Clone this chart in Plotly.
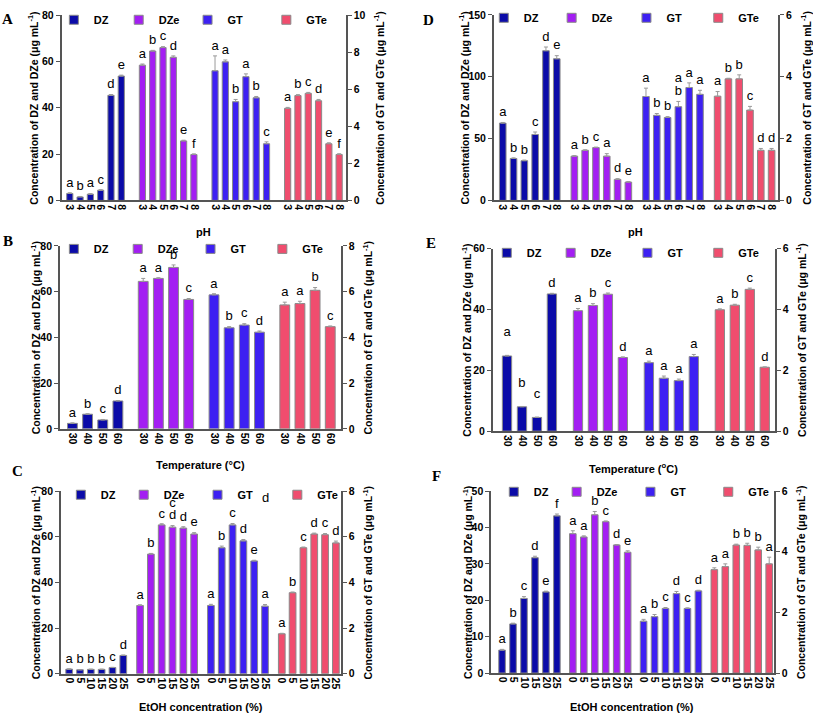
import plotly.graph_objects as go

W, H = 813, 722
SERIES = ["DZ", "DZe", "GT", "GTe"]
COLORS = {"DZ": "#0b0ba8", "DZe": "#a31ef2", "GT": "#3d20f2", "GTe": "#f04d6e"}

# ---------------- Panel A: pH (first species) ----------------
A_cats = ["3", "4", "5", "6", "7", "8"]
A_DZ = [3.0, 1.5, 2.7, 4.4, 45.4, 53.7]
A_DZ_err = [0.3, 0.2, 0.2, 0.2, 0.3, 0.4]
A_DZ_let = ["a", "b", "a", "c", "d", "e"]
A_DZe = [58.4, 64.5, 66.0, 61.8, 25.7, 19.8]
A_DZe_err = [0.5, 0.3, 0.4, 0.6, 0.3, 0.3]
A_DZe_let = ["a", "b", "c", "d", "e", "f"]
A_GT = [7.0, 7.48, 5.33, 6.68, 5.54, 3.06]
A_GT_err = [0.8, 0.1, 0.12, 0.15, 0.07, 0.1]
A_GT_let = ["a", "a", "b", "a", "b", "c"]
A_GTe = [4.97, 5.66, 5.78, 5.38, 3.06, 2.48]
A_GTe_err = [0.05, 0.05, 0.05, 0.07, 0.05, 0.04]
A_GTe_let = ["a", "b", "c", "d", "e", "f"]

# ---------------- Panel B: temperature ----------------
B_cats = ["30", "40", "50", "60"]
B_DZ = [2.4, 6.4, 3.9, 12.2]
B_DZ_err = [0.2, 0.2, 0.2, 0.2]
B_DZ_let = ["a", "b", "c", "d"]
B_DZe = [64.5, 65.8, 70.6, 56.6]
B_DZe_err = [1.3, 0.3, 1.1, 0.4]
B_DZe_let = ["a", "a", "b", "c"]
B_GT = [5.86, 4.42, 4.54, 4.23]
B_GT_err = [0.05, 0.05, 0.06, 0.05]
B_GT_let = ["a", "b", "c", "d"]
B_GTe = [5.42, 5.48, 6.06, 4.47]
B_GTe_err = [0.12, 0.1, 0.12, 0.03]
B_GTe_let = ["a", "a", "b", "c"]

# ---------------- Panel C: EtOH ----------------
C_cats = ["0", "5", "10", "15", "20", "25"]
C_DZ = [2.0, 1.7, 1.9, 1.9, 2.7, 8.0]
C_DZ_err = [0.1, 0.1, 0.1, 0.1, 0.1, 0.2]
C_DZ_let = ["a", "b", "b", "b", "c", "d"]
C_DZe = [29.9, 52.4, 65.2, 64.2, 63.8, 61.2]
C_DZe_err = [0.3, 0.3, 0.5, 0.7, 0.6, 0.6]
C_DZe_let = ["a", "b", "c", "c<br>d", "d", "e"]
C_GT = [2.99, 5.52, 6.52, 5.82, 4.94, 2.96]
C_GT_err = [0.05, 0.07, 0.06, 0.06, 0.03, 0.07]
C_GT_let = ["a", "b", "c", "d", "e", "a"]
C_GTe = [1.75, 3.55, 5.52, 6.12, 6.09, 5.73]
C_GTe_err = [0.02, 0.03, 0.03, 0.04, 0.05, 0.08]
C_GTe_let = ["a", "b", "c", "d", "c", "d"]

# ---------------- Panel D: pH (second species) ----------------
D_cats = ["3", "4", "5", "6", "7", "8"]
D_DZ = [62.5, 33.9, 32.1, 53.3, 121.0, 114.5]
D_DZ_err = [0.5, 0.5, 0.5, 2.0, 3.0, 2.5]
D_DZ_let = ["a", "b", "b", "c", "d", "e"]
D_DZe = [35.8, 40.5, 42.7, 35.8, 17.0, 14.8]
D_DZe_err = [0.4, 0.4, 0.4, 2.0, 0.6, 0.5]
D_DZe_let = ["a", "b", "c", "a", "d", "e"]
D_GT = [3.36, 2.75, 2.68, 3.03, 3.65, 3.43]
D_GT_err = [0.27, 0.06, 0.03, 0.17, 0.15, 0.13]
D_GT_let = ["a", "b", "b", "a<br>b", "a", "a"]
D_GTe = [3.37, 3.93, 3.93, 2.92, 1.62, 1.62]
D_GTe_err = [0.15, 0.02, 0.13, 0.12, 0.06, 0.06]
D_GTe_let = ["a", "b", "b", "c", "d", "d"]

# ---------------- Panel E: temperature ----------------
E_cats = ["30", "40", "50", "60"]
E_DZ = [24.7, 8.0, 4.5, 45.1]
E_DZ_err = [0.2, 0.1, 0.1, 0.2]
E_DZ_let = ["a<br>", "b<br>", "c<br>", "d"]   # first three float higher in the original
E_DZe = [39.6, 41.3, 45.0, 24.2]
E_DZe_err = [0.7, 0.6, 0.4, 0.2]
E_DZe_let = ["a", "b", "c", "d"]
E_GT = [2.25, 1.74, 1.66, 2.45]
E_GT_err = [0.05, 0.07, 0.05, 0.07]
E_GT_let = ["a", "a", "a", "a"]
E_GTe = [3.99, 4.14, 4.66, 2.10]
E_GTe_err = [0.03, 0.03, 0.04, 0.01]
E_GTe_let = ["a", "b", "c", "d"]

# ---------------- Panel F: EtOH ----------------
F_cats = ["0", "5", "10", "15", "20", "25"]
F_DZ = [6.3, 13.5, 20.5, 31.7, 22.3, 43.2]
F_DZ_err = [0.2, 0.2, 0.5, 0.4, 0.2, 0.5]
F_DZ_let = ["a", "b", "c", "d", "e", "f"]
F_DZe = [38.3, 37.4, 43.5, 41.6, 35.2, 33.2]
F_DZe_err = [0.8, 0.3, 0.9, 0.2, 0.1, 0.4]
F_DZe_let = ["a", "a", "b", "c", "d", "e"]
F_GT = [1.71, 1.86, 2.13, 2.62, 2.13, 2.71]
F_GT_err = [0.06, 0.07, 0.03, 0.07, 0.02, 0.02]
F_GT_let = ["a", "b", "c", "d", "c", "d"]
F_GTe = [3.41, 3.51, 4.22, 4.21, 4.06, 3.60]
F_GTe_err = [0.06, 0.09, 0.03, 0.07, 0.09, 0.22]
F_GTe_let = ["a", "a", "b", "b", "b", "a"]

LEFT_TITLE = "Concentration of DZ and DZe (μg mL<sup>-1</sup>)"
RIGHT_TITLE = "Concentration of GT and GTe (μg mL<sup>-1</sup>)"

g = globals()
panels = [
    dict(key="A", xt="pH", lmax=80, ldt=20, rmax=10, rdt=2,
         px=(61.7, 346.7), py=(9.3, 197.7), stride=7.05, padl=0.8, padr=0.65, bw=0.6,
         leg=[74, 139, 208, 287], legy=14, lab=(8, 13), xty=230, ltx=33, rtx=380),
    dict(key="B", xt="Temperature (°C)", lmax=80, ldt=20, rmax=8, rdt=2,
         px=(60, 341.7), py=(244, 430), stride=4.67, padl=0.83, padr=0.7, bw=0.65,
         leg=[74, 138, 211, 283], legy=247, lab=(8, 239), xty=467, ltx=35, rtx=368),
    dict(key="C", xt="EtOH concentration (%)", lmax=80, ldt=20, rmax=8, rdt=2,
         px=(61, 341.7), py=(493.3, 679), stride=6.55, padl=0.77, padr=0.46, bw=0.62,
         leg=[81, 144, 218, 298], legy=497, lab=(18, 473), xty=713, ltx=35, rtx=368),
    dict(key="D", xt="pH", lmax=150, ldt=50, rmax=6, rdt=2,
         px=(495, 780), py=(9, 197.7), stride=6.63, padl=0.83, padr=0.6, bw=0.61,
         leg=[505, 573, 648, 720], legy=12, lab=(430, 14), xty=230, ltx=465, rtx=808),
    dict(key="E", xt="Temperature (<sup>o</sup>C)", lmax=60, ldt=20, rmax=6, rdt=2,
         px=(494, 776.7), py=(246.7, 432.3), stride=4.74, padl=0.95, padr=0.67, bw=0.62,
         leg=[508, 572, 649, 720], legy=251, lab=(432, 241), xty=470, ltx=468, rtx=803),
    dict(key="F", xt="EtOH concentration (%)", lmax=50, ldt=10, rmax=6, rdt=2,
         px=(492.3, 775.7), py=(493.3, 678.3), stride=6.45, padl=1.0, padr=0.42, bw=0.6,
         leg=[515, 578, 652, 730], legy=494, lab=(438, 478), xty=713, ltx=468, rtx=802),
]

FONT = "Liberation Sans, Arial, sans-serif"
AXC = "#555555"
LABEL_PAD_PX = 3      # gap between error-bar top and letter
LINE_PX = 13          # spacing of stacked letters
fig = go.Figure()
annotations = []
layout = dict(width=W, height=H, margin=dict(l=0, r=0, t=0, b=0),
              paper_bgcolor="white", plot_bgcolor="white", barmode="overlay",
              showlegend=True)

legend_counter = 0
for k, p in enumerate(panels):
    key = p["key"]
    cats = g[f"{key}_cats"]
    n = len(cats)
    xname = "x" if k == 0 else f"x{k+1}"
    yl = f"y{2*k+1}" if k > 0 else "y"
    yr = f"y{2*k+2}"
    xdom = [p["px"][0] / W, p["px"][1] / W]
    ydom = [1 - p["py"][1] / H, 1 - p["py"][0] / H]
    hpx = p["py"][1] - p["py"][0]

    tickvals, ticktext = [], []
    for gi, s in enumerate(SERIES):
        xs = [gi * p["stride"] + i for i in range(n)]
        tickvals += xs
        ticktext += cats
        vals = g[f"{key}_{s}"]
        errs = g[f"{key}_{s}_err"]
        lets = g[f"{key}_{s}_let"]
        left = s in ("DZ", "DZe")
        yax = yl if left else yr
        rng = p["lmax"] if left else p["rmax"]
        upx = rng / hpx  # axis units per pixel
        fig.add_trace(go.Bar(
            x=xs, y=vals, width=p["bw"], xaxis=xname, yaxis=yax,
            marker=dict(color=COLORS[s], line=dict(color="#8a8a8a", width=1)),
            error_y=dict(type="data", array=errs, arrayminus=[0] * n, symmetric=False,
                         color="#9a9a9a", thickness=1, width=2),
            showlegend=False, name=s, hoverinfo="skip"))
        # letters; stacked letters split into lines (bottom line nearest the bar)
        lx, ly, lt = [], [], []
        for xi, v, e, t in zip(xs, vals, errs, lets):
            lines = t.split("<br>")
            for j, ln in enumerate(reversed(lines)):
                if ln.strip() == "":
                    continue
                lx.append(xi)
                ly.append(v + e + (LABEL_PAD_PX + j * LINE_PX) * upx)
                lt.append(ln)
        fig.add_trace(go.Scatter(
            x=lx, y=ly, mode="text", text=lt,
            textposition="top center", xaxis=xname, yaxis=yax,
            textfont=dict(family=FONT, size=13, color="black"),
            cliponaxis=False, showlegend=False, hoverinfo="skip"))
        # legend entry
        legend_counter += 1
        lname = "legend" if legend_counter == 1 else f"legend{legend_counter}"
        fig.add_trace(go.Scatter(
            x=[None], y=[None], mode="markers", name=s, xaxis=xname, yaxis=yax,
            marker=dict(symbol="square", size=9, color=COLORS[s],
                        line=dict(color="#8a8a8a", width=1)),
            legend=lname, showlegend=True))
        layout[lname] = dict(x=(p["leg"][gi] - 20) / W, y=1 - p["legy"] / H,
                             xanchor="left", yanchor="middle", bgcolor="rgba(0,0,0,0)",
                             font=dict(family=FONT, size=11, color="black", weight="bold"),
                             itemwidth=30, tracegroupgap=0)

    xmax = 3 * p["stride"] + n - 1
    layout[f"xaxis{k+1}" if k > 0 else "xaxis"] = dict(
        domain=xdom, anchor=yl, range=[-p["padl"], xmax + p["padr"]],
        tickvals=tickvals, ticktext=ticktext, tickangle=90,
        tickfont=dict(family=FONT, size=10.5, color="black", weight="bold"),
        showline=True, linecolor=AXC, linewidth=1.5, ticks="", showgrid=False,
        zeroline=False, fixedrange=True)
    layout[f"yaxis{2*k+1}" if k > 0 else "yaxis"] = dict(
        domain=ydom, anchor=xname, range=[0, p["lmax"]], dtick=p["ldt"], tick0=0,
        tickfont=dict(family=FONT, size=10.5, color="black", weight="bold"),
        showline=True, linecolor=AXC, linewidth=1.5, ticks="outside", ticklen=4,
        tickcolor=AXC, showgrid=False, zeroline=False)
    layout[f"yaxis{2*k+2}"] = dict(
        domain=ydom, anchor=xname, overlaying=yl, side="right",
        range=[0, p["rmax"]], dtick=p["rdt"], tick0=0,
        tickfont=dict(family=FONT, size=10.5, color="black", weight="bold"),
        showline=True, linecolor=AXC, linewidth=1.5, ticks="outside", ticklen=4,
        tickcolor=AXC, showgrid=False, zeroline=False)

    ymid = 1 - (p["py"][0] + p["py"][1]) / 2 / H
    annotations.append(dict(text=LEFT_TITLE, x=p["ltx"] / W, y=ymid, xref="paper", yref="paper",
                            textangle=-90, showarrow=False, xanchor="center", yanchor="middle",
                            font=dict(family=FONT, size=10.5, color="black", weight="bold")))
    annotations.append(dict(text=RIGHT_TITLE, x=p["rtx"] / W, y=ymid, xref="paper", yref="paper",
                            textangle=-90, showarrow=False, xanchor="center", yanchor="middle",
                            font=dict(family=FONT, size=10.5, color="black", weight="bold")))
    annotations.append(dict(text=p["xt"], x=(p["px"][0] + p["px"][1]) / 2 / W, y=1 - p["xty"] / H,
                            xref="paper", yref="paper", showarrow=False,
                            xanchor="center", yanchor="middle",
                            font=dict(family=FONT, size=11, color="black", weight="bold")))
    annotations.append(dict(text=key, x=p["lab"][0] / W, y=1 - p["lab"][1] / H,
                            xref="paper", yref="paper", showarrow=False,
                            xanchor="center", yanchor="middle",
                            font=dict(family="Liberation Serif, Times New Roman, serif",
                                      size=15, color="black", weight="bold")))

# stray label in panel C above the last GT bar
annotations.append(dict(text="d", x=2 * panels[2]["stride"] + 5, y=77, xref="x3", yref="y5",
                        showarrow=False, font=dict(family=FONT, size=13, color="black")))

layout["annotations"] = annotations
fig.update_layout(**layout)
fig.write_html("out.html")
